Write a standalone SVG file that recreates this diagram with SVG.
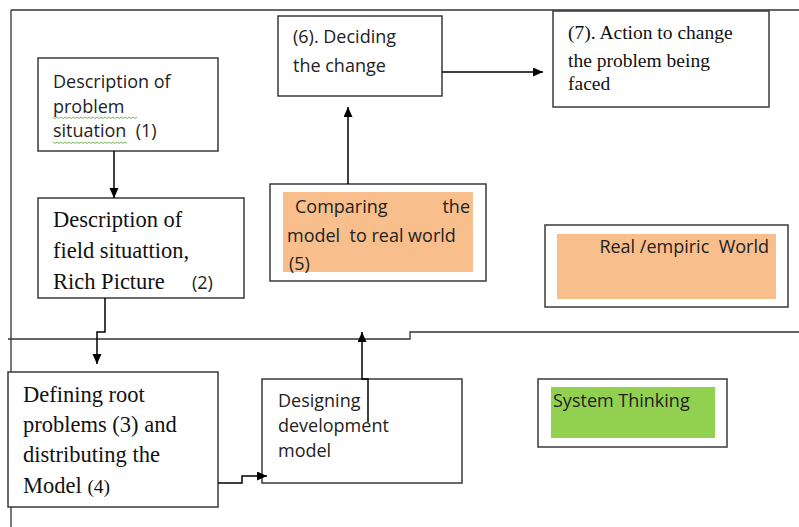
<svg xmlns="http://www.w3.org/2000/svg" width="799" height="527" viewBox="0 0 799 527">
<style>
text{white-space:pre}
.box{fill:#fff;stroke:#3a3a3a;stroke-width:1.5}
.sans{font-family:"Open Sans","Liberation Sans",sans-serif;font-size:18px;fill:#222}
.serif{font-family:"Liberation Serif","Times New Roman",serif;font-size:22.5px;fill:#111}
.serif7{font-family:"Liberation Serif","Times New Roman",serif;font-size:19.5px;fill:#111}
.ln{fill:none;stroke:#000;stroke-width:1.5}
.frame{fill:none;stroke:#333;stroke-width:1.3}
.squig{fill:none;stroke:#6ab04c;stroke-width:0.9}
</style>
<defs>
<marker id="ah" markerWidth="11" markerHeight="10" refX="10" refY="4.5" orient="auto" markerUnits="userSpaceOnUse">
<path d="M0,0 L10,4.5 L0,9 z" fill="#000"/>
</marker>
</defs>
<rect width="799" height="527" fill="#fff"/>
<g id="frame">
<path class="frame" d="M11,10 H799 M11,10 V527"/>
<path class="frame" d="M8,339 H410 V332 H799"/>
</g>
<g id="n1">
<rect class="box" x="38" y="58" width="180" height="93"/>
<text class="sans" x="53" y="88">Description of</text>
<text class="sans" x="53" y="113">problem</text>
<text class="sans" x="53" y="137">situation  (1)</text>
<path class="squig" d="M53,117 l2,1.5 l2,-1.5 l2,1.5 l2,-1.5 l2,1.5 l2,-1.5 l2,1.5 l2,-1.5 l2,1.5 l2,-1.5 l2,1.5 l2,-1.5 l2,1.5 l2,-1.5 l2,1.5 l2,-1.5 l2,1.5 l2,-1.5 l2,1.5 l2,-1.5 l2,1.5 l2,-1.5 l2,1.5 l2,-1.5 l2,1.5 l2,-1.5 l2,1.5 l2,-1.5 l2,1.5 l2,-1.5 l2,1.5 l2,-1.5 l2,1.5 l2,-1.5 l2,1.5 l2,-1.5 l2,1.5 l2,-1.5 l2,1.5 l2,-1.5 l2,1.5 l2,-1.5"/>
<path class="squig" d="M53,142 l2,1.5 l2,-1.5 l2,1.5 l2,-1.5 l2,1.5 l2,-1.5 l2,1.5 l2,-1.5 l2,1.5 l2,-1.5 l2,1.5 l2,-1.5 l2,1.5 l2,-1.5 l2,1.5 l2,-1.5 l2,1.5 l2,-1.5 l2,1.5 l2,-1.5 l2,1.5 l2,-1.5 l2,1.5 l2,-1.5 l2,1.5 l2,-1.5 l2,1.5 l2,-1.5 l2,1.5 l2,-1.5 l2,1.5 l2,-1.5 l2,1.5 l2,-1.5 l2,1.5 l2,-1.5 l2,1.5"/>
</g>
<g id="n2">
<rect class="box" x="38" y="198" width="206" height="100"/>
<text class="serif" x="53" y="227">Description of</text>
<text class="serif" x="53" y="258">field situattion,</text>
<text class="serif" x="53" y="289">Rich Picture</text>
<text class="sans" x="192" y="289" font-size="15">(2)</text>
</g>
<g id="n3">
<rect class="box" x="8" y="372" width="210" height="135"/>
<text class="serif" x="23" y="402">Defining root</text>
<text class="serif" x="23" y="432">problems (3) and</text>
<text class="serif" x="23" y="462">distributing the</text>
<text class="serif" x="23" y="493">Model <tspan font-size="19.5">(4)</tspan></text>
</g>
<g id="n4">
<rect class="box" x="262" y="379" width="200" height="104"/>
<text class="sans" x="278" y="407">Designing</text>
<text class="sans" x="278" y="432">development</text>
<text class="sans" x="278" y="457">model</text>
</g>
<g id="n5">
<rect class="box" x="270" y="184" width="216" height="97"/>
<rect x="283" y="192" width="190" height="80" fill="#f8be8c"/>
<text class="sans" x="295" y="213">Comparing</text>
<text class="sans" x="470" y="213" text-anchor="end">the</text>
<text class="sans" x="287" y="242">model  to real world</text>
<text class="sans" x="289" y="270">(5)</text>
</g>
<g id="n6">
<rect class="box" x="278" y="16" width="164" height="80"/>
<text class="sans" x="293" y="43">(6). Deciding</text>
<text class="sans" x="293" y="72">the change</text>
</g>
<g id="n7">
<rect class="box" x="553" y="11" width="216" height="96"/>
<text class="serif7" x="568" y="39">(7). Action to change</text>
<text class="serif7" x="568" y="67">the problem being</text>
<text class="serif7" x="568" y="90">faced</text>
</g>
<g id="real">
<rect class="box" x="545" y="225" width="243" height="82"/>
<rect x="557" y="234" width="219" height="65" fill="#f8be8c"/>
<text class="sans" x="769" y="253" text-anchor="end">Real /empiric  World</text>
</g>
<g id="system">
<rect class="box" x="538" y="379" width="189" height="68"/>
<rect x="551" y="387" width="164" height="51" fill="#92d050"/>
<text class="sans" x="553" y="407">System Thinking</text>
</g>
<g id="connectors">
<path class="ln" d="M114,151 V198" marker-end="url(#ah)"/>
<path class="ln" d="M105,298 V332 H97 V364" marker-end="url(#ah)"/>
<path class="ln" d="M218,483 H242 V476 H267" marker-end="url(#ah)"/>
<path class="ln" d="M368,422 V379 H362 V332" marker-end="url(#ah)"/>
<path class="ln" d="M348,184 V107" marker-end="url(#ah)"/>
<path class="ln" d="M442,72 H543" marker-end="url(#ah)"/>
</g>
</svg>
